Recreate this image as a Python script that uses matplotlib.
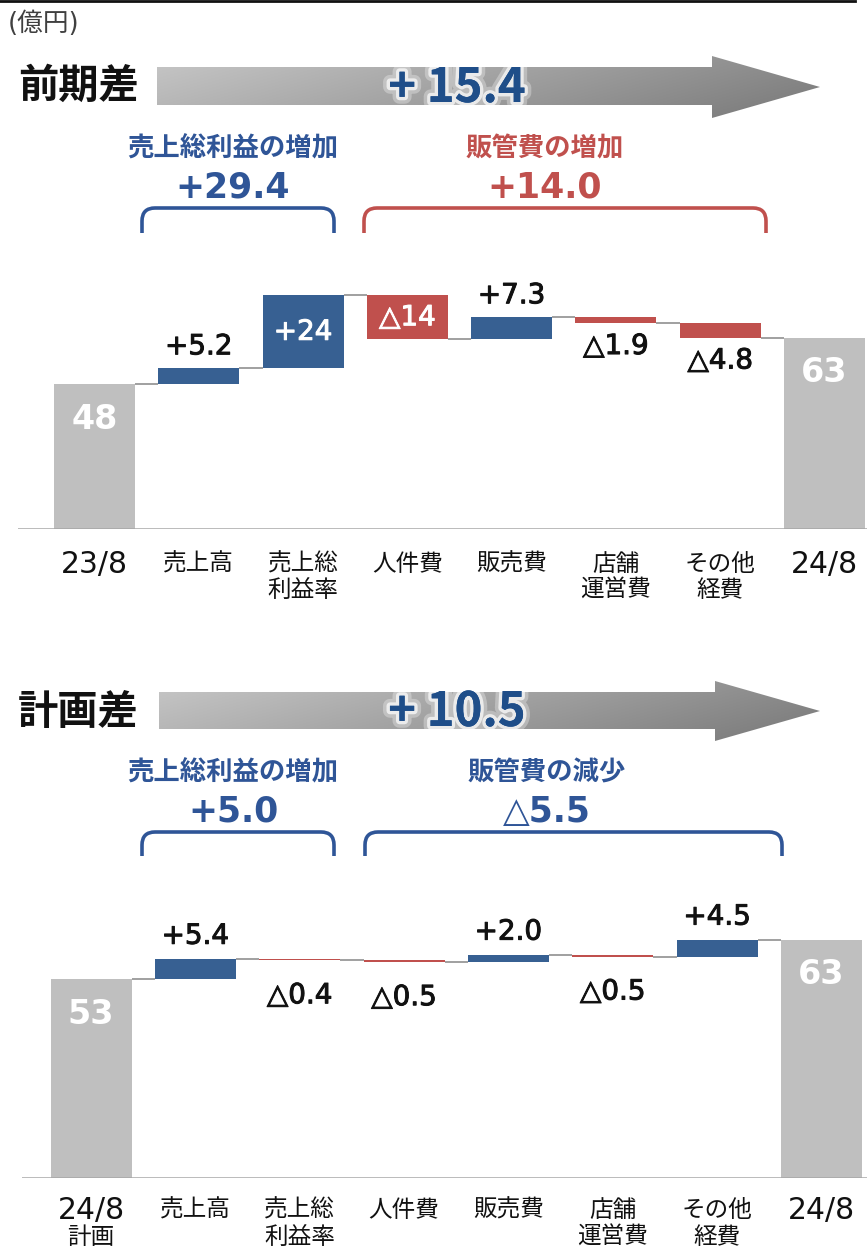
import numpy as np
import matplotlib
matplotlib.use('Agg')
import matplotlib.pyplot as plt
from matplotlib.patches import PathPatch, Polygon
from matplotlib.path import Path
import matplotlib.patheffects as pe

plt.rcParams['font.family'] = ['DejaVu Sans', 'Noto Sans CJK JP']
CJK = ['Noto Sans CJK JP', 'DejaVu Sans']

# ---------------- data ----------------
unit_label = '(億円)'

top_title = '前期差'
top_total = '+ 15.4'
top_categories = ['23/8', '売上高', '売上総\n利益率', '人件費', '販売費', '店舗\n運営費', 'その他\n経費', '24/8']
top_start = 48.0
top_deltas = [5.2, 24.2, -14.6, 7.3, -1.9, -4.8]
top_end = 63.4
top_value_labels = ['48', '+5.2', '+24', '△14', '+7.3', '△1.9', '△4.8', '63']
top_group_names = ['売上総利益の増加', '販管費の増加']
top_group_values = ['+29.4', '+14.0']

bot_title = '計画差'
bot_total = '+ 10.5'
bot_categories = ['24/8\n計画', '売上高', '売上総\n利益率', '人件費', '販売費', '店舗\n運営費', 'その他\n経費', '24/8']
bot_start = 52.9
bot_deltas = [5.4, -0.4, -0.5, 2.0, -0.5, 4.5]
bot_end = 63.4
bot_value_labels = ['53', '+5.4', '△0.4', '△0.5', '+2.0', '△0.5', '+4.5', '63']
bot_group_names = ['売上総利益の増加', '販管費の減少']
bot_group_values = ['+5.0', '△5.5']

# ---------------- style ----------------
top_label_modes = ['in_top', 'above', 'in', 'in', 'above', 'below', 'below', 'in_top']
bot_label_modes = ['in_top', 'above', 'below', 'below', 'above', 'below', 'above', 'in_top']

GRAY = '#bfbfbf'
BLUE = '#376092'
RED = '#c0504d'
TXT_BLUE = '#2f5597'
CONN = '#a0a0a0'

W, H = 867, 1252
DPI = 100
PT = 72.0 / DPI  # points per pixel

fig = plt.figure(figsize=(W / DPI, H / DPI), dpi=DPI)


def rect(l, t, r, b):
    return [l / W, 1 - b / H, (r - l) / W, (b - t) / H]


ov = fig.add_axes([0, 0, 1, 1], zorder=0)
ov.patch.set_visible(False)


def waterfall(ax, start, deltas, end, labels, modes, cats, c0, dx, left, right,
              base, scale, top, off_above, off_below, in_off, cat_y):
    n = len(deltas) + 2
    x = np.arange(n)
    bottoms, heights, colors, levels = [0], [start], [GRAY], [start]
    cum = start
    for d in deltas:
        if d >= 0:
            bottoms.append(cum); heights.append(d); colors.append(BLUE)
        else:
            bottoms.append(cum + d); heights.append(-d); colors.append(RED)
        cum += d
        levels.append(cum)
    bottoms.append(0); heights.append(end); colors.append(GRAY)
    w = 81.0 / dx
    ax.bar(x, heights, bottom=bottoms, width=w, color=colors, zorder=3)
    for i in range(n - 1):
        ax.plot([x[i] + w / 2, x[i + 1] - w / 2], [levels[i], levels[i]],
                color=CONN, lw=1.4, zorder=2, solid_capstyle='butt')
    ax.axhline(0, color='#a6a6a6', lw=1.8, zorder=4)
    ax.set_xlim(-(c0 - left) / dx, (right - c0) / dx)
    ax.set_ylim(0, (base - top) / scale)
    ax.axis('off')
    for i in range(n):
        b, h = bottoms[i], heights[i]
        m = modes[i]
        if m == 'in_top':
            yref, dy, col, fs, fw = b + h, -in_off, 'white', 24, 'bold'
        elif m == 'in':
            yref, dy, col, fs, fw = b + h / 2, 0, 'white', 20, 'normal'
        elif m == 'above':
            yref, dy, col, fs, fw = b + h, off_above, '#111111', 20, 'normal'
        else:
            yref, dy, col, fs, fw = b, -off_below, '#111111', 20, 'normal'
        effects = [] if fw == 'bold' else [pe.withStroke(linewidth=0.7, foreground=col)]
        ax.annotate(labels[i], xy=(i, yref), xytext=(0, dy * PT),
                    textcoords='offset points', ha='center', va='center',
                    color=col, fontsize=fs, fontweight=fw, zorder=5,
                    annotation_clip=False, path_effects=effects)
    for i, c in enumerate(cats):
        for j, line in enumerate(c.split('\n')):
            fs = 21.5 if any(ch.isdigit() for ch in line) else 17
            ax.annotate(line, xy=(i, 0), xytext=(0, -cat_y[j] * PT),
                        textcoords='offset points', ha='center', va='center',
                        color='#111111', fontsize=fs, annotation_clip=False)


ax1 = fig.add_axes(rect(18, 250, 867, 529), zorder=2)
ax1.patch.set_visible(False)
waterfall(ax1, top_start, top_deltas, top_end, top_value_labels, top_label_modes,
          top_categories, 94.5, 104.29, 18, 867, 529, 3.02, 250, 22, 23, 35, [35, 61])

ax2 = fig.add_axes(rect(22, 880, 867, 1178), zorder=2)
ax2.patch.set_visible(False)
waterfall(ax2, bot_start, bot_deltas, bot_end, bot_value_labels, bot_label_modes,
          bot_categories, 91, 104.36, 22, 867, 1178, 3.76, 880, 23, 35, 35, [32, 59])


# ---------------- decorations ----------------
def grad_arrow(x0, xh, xt, bt, bb, ht, hb, text, title, ty):
    yc = (ht + hb) / 2
    pts = [(x0, bt), (xh, bt), (xh, ht), (xt, yc), (xh, hb), (xh, bb), (x0, bb)]
    poly = Polygon(pts, closed=True, facecolor='none', edgecolor='none')
    ov.add_patch(poly)
    nx, ny = 300, 60
    xs = np.linspace(0, 1, nx)[None, :]
    ys = np.linspace(0, 1, ny)[:, None]
    t = np.clip(0.75 * xs + 0.25 * ys, 0, 1)
    c1 = np.array([0.78, 0.78, 0.78])
    c2 = np.array([0.47, 0.47, 0.47])
    img = c1[None, None, :] * (1 - t[..., None]) + c2[None, None, :] * t[..., None]
    im = ov.imshow(img, extent=[x0, xt, hb, ht], origin='upper', aspect='auto',
                   interpolation='bilinear', zorder=1)
    im.set_clip_path(poly)
    ov.text(457, yc + 1, text, ha='center', va='center', fontsize=34,
            fontweight='bold', color='#1f4e89', zorder=3, family=CJK,
            path_effects=[pe.withStroke(linewidth=10, foreground='white', alpha=0.3),
                          pe.withStroke(linewidth=5, foreground='white', alpha=0.7),
                          pe.Normal()])
    ov.text(18, ty, title, ha='left', va='center', fontsize=29, family=CJK,
            fontweight='bold', color='#111111', zorder=3)


def bracket(xl, xr, yt, yb, color, r=13):
    verts = [(xl, yb), (xl, yt + r), (xl, yt), (xl + r, yt), (xr - r, yt),
             (xr, yt), (xr, yt + r), (xr, yb)]
    codes = [Path.MOVETO, Path.LINETO, Path.CURVE3, Path.CURVE3, Path.LINETO,
             Path.CURVE3, Path.CURVE3, Path.LINETO]
    ov.add_patch(PathPatch(Path(verts, codes), facecolor='none', edgecolor=color,
                           lw=2.6, capstyle='butt', zorder=3))


def group_text(xc, y1, y2, name, val, color):
    ov.text(xc, y1, name, ha='center', va='center', fontsize=19, family=CJK,
            fontweight='bold', color=color, zorder=3)
    ov.text(xc, y2, val, ha='center', va='center', fontsize=25,
            fontweight='bold', color=color, zorder=3)


# top rule and unit
ov.plot([0, 855], [1, 1], color='#111111', lw=2.0, zorder=3)
ov.text(8, 24, unit_label, ha='left', va='center', fontsize=18.5, color='#404040')

grad_arrow(157, 712, 820, 67, 105, 56, 118, top_total, top_title, 86)
bracket(142, 334, 208, 233, TXT_BLUE)
bracket(364, 766, 208, 233, RED)
group_text(233, 149, 187, top_group_names[0], top_group_values[0], TXT_BLUE)
group_text(545, 149, 187, top_group_names[1], top_group_values[1], RED)

grad_arrow(159, 715, 820, 692, 729, 681, 741, bot_total, bot_title, 712)
bracket(142, 334, 832, 856, TXT_BLUE)
bracket(365, 782, 832, 856, TXT_BLUE)
group_text(233, 773, 812, bot_group_names[0], bot_group_values[0], TXT_BLUE)
group_text(547, 773, 812, bot_group_names[1], bot_group_values[1], TXT_BLUE)

ov.set_xlim(0, W)
ov.set_ylim(H, 0)
ov.axis('off')

fig.savefig('out.png', dpi=DPI)
